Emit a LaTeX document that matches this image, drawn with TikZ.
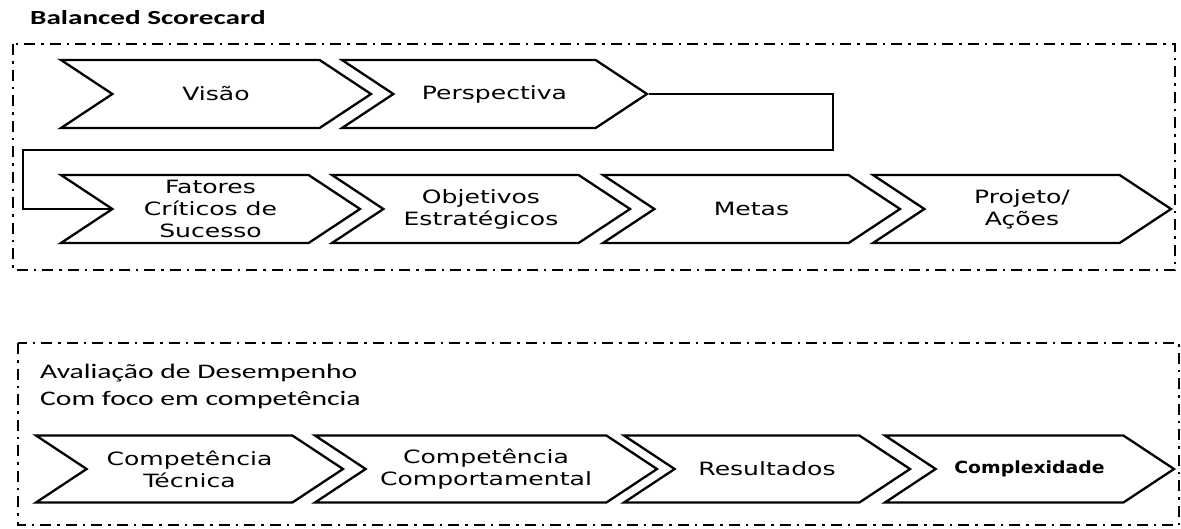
\documentclass[tikz,border=0pt]{standalone}
\usepackage{fontspec}
\setmainfont{Carlito}[FakeStretch=1.43]
\newfontfamily\chevfont{DejaVu Sans}[FakeStretch=1.37]
\newfontfamily\chevboldfont{DejaVu Sans}[FakeStretch=1.13]
\usetikzlibrary{shapes.symbols, positioning}

\begin{document}
\begin{tikzpicture}[x=1pt, y=-1pt,
	chev/.style={
		draw, line width=2.3pt,
		signal, signal from=west, signal to=east,
		signal pointer angle=67,
		minimum height=68pt, inner sep=0pt,
		font=\chevfont\fontsize{18.3}{22}\selectfont,
		align=center
	},
	frame/.style={
		draw, line width=1.8pt,
		dash pattern=on 11pt off 6pt on 2.5pt off 6pt
	},
	link/.style={
		line width=2.3pt
	},
	label/.style={
		font=\fontsize{20.7}{27}\selectfont,
		align=left, inner sep=0pt
	}
	]
	\useasboundingbox (0,0) rectangle (1181,528);

	\node[label, anchor=west, font=\bfseries\fontsize{20}{22}\selectfont] 
	(bsc) at (30,18) {\scalebox{1.02}[1]{Balanced Scorecard}};
	\draw[frame] (13,44) rectangle (1175,270);

	\node[chev, minimum width=310pt] (visao) at (216,94) {Vis\~ao};
	\node[chev, minimum width=305pt] (persp) at (494.5,94) {Perspectiva};

	\node[chev, minimum width=299pt] (fatores) at (210.5,209) 
	{Fatores\\Cr\'iticos de\\Sucesso};
	\node[chev, minimum width=298pt] (objet) at (481,209) 
	{Objetivos\\Estrat\'egicos};
	\node[chev, minimum width=297pt] (metas) at (751.5,209) {Metas};
	\node[chev, minimum width=298pt] (proj) at (1022,209) 
	{Projeto/\\A\c{c}\~oes};

	\coordinate (turnR) at (833,150);
	\coordinate (turnL) at (23,150);
	\draw[link] (persp.east) -| (turnR) -- (turnL) |- (fatores.west);

	\node[label, anchor=west] (aval) at (40,386) 
	{Avalia\c{c}\~ao de Desempenho\\Com foco em compet\^encia};
	\draw[frame] (18,343) rectangle (1179,525);

	\node[chev, minimum width=307pt, minimum height=67pt] (tecnica) at (189.5,469) 
	{Compet\^encia\\T\'ecnica};
	\node[chev, minimum width=342pt, minimum height=67pt] (comport) at (486,469) 
	{Compet\^encia\\Comportamental};
	\node[chev, minimum width=286pt, minimum height=67pt] (result) at (767,469) 
	{Resultados};
	\node[chev, minimum width=289pt, minimum height=67pt, 
		font=\chevboldfont\bfseries\fontsize{16.7}{20}\selectfont] (complex) at (1029.5,469) 
	{Complexidade};
\end{tikzpicture}
\end{document}
